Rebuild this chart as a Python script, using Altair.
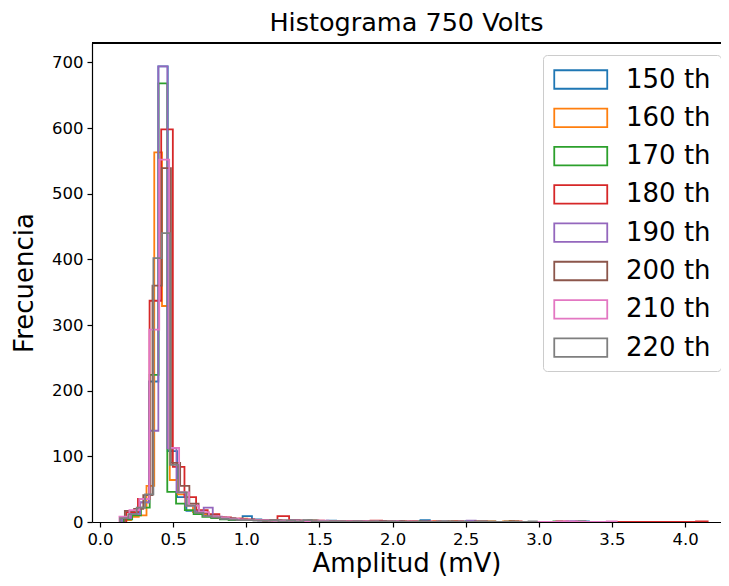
import altair as alt
import pandas as pd

labels = ["150 th", "160 th", "170 th", "180 th", "190 th", "200 th", "210 th", "220 th"]
colors = ["#1f77b4", "#ff7f0e", "#2ca02c", "#d62728", "#9467bd", "#8c564b", "#e377c2", "#7f7f7f"]

# left edge of the first bin and bin width (mV) of each series (50 bins each)
bin_start = [0.143, 0.159, 0.160, 0.180, 0.151, 0.170, 0.133, 0.137]
bin_width = [0.064, 0.053, 0.060, 0.0795, 0.062, 0.063, 0.068, 0.057]

counts_150 = [5, 14, 30, 214, 694, 108, 38, 17, 12, 9, 6, 5, 4, 9, 4, 3, 3, 2, 3, 2,
              2, 1, 2, 1, 1, 1, 1, 0, 1, 1, 0, 1, 3, 0, 1, 0, 1, 0, 0, 1,
              0, 1, 0, 0, 0, 0, 0, 0, 1, 1]
counts_160 = [3, 8, 10, 55, 563, 329, 64, 42, 25, 15, 12, 9, 7, 5, 4, 5, 3, 3, 2, 2,
              2, 1, 2, 1, 1, 1, 1, 1, 0, 1, 1, 0, 1, 0, 1, 1, 0, 1, 0, 0,
              1, 0, 1, 0, 0, 0, 0, 1, 0, 1]
counts_170 = [4, 10, 22, 224, 668, 46, 28, 18, 12, 8, 6, 4, 3, 4, 3, 3, 2, 2, 2, 1,
              1, 2, 1, 1, 1, 0, 1, 1, 0, 1, 0, 1, 0, 1, 0, 0, 1, 0, 0, 1,
              0, 0, 0, 0, 1, 0, 0, 0, 0, 1]
counts_180 = [15, 35, 337, 598, 84, 38, 18, 12, 7, 5, 4, 3, 3, 9, 2, 2, 2, 1, 1, 1,
              1, 2, 1, 1, 1, 0, 1, 0, 1, 0, 1, 0, 0, 1, 0, 0, 0, 1, 0, 0,
              0, 0, 0, 0, 0, 0, 0, 0, 0, 1]
counts_190 = [6, 12, 30, 139, 694, 112, 45, 25, 16, 22, 8, 5, 4, 3, 3, 2, 2, 2, 1, 2,
              1, 1, 1, 1, 0, 1, 1, 0, 1, 0, 1, 0, 0, 1, 0, 0, 0, 0, 2, 0,
              0, 0, 0, 0, 0, 0, 0, 0, 0, 1]
counts_200 = [17, 20, 41, 360, 539, 90, 55, 28, 14, 10, 7, 6, 4, 3, 3, 2, 3, 2, 2, 1,
              2, 1, 1, 1, 1, 1, 0, 1, 1, 0, 1, 0, 1, 0, 0, 1, 0, 0, 1, 0,
              0, 0, 0, 0, 0, 0, 0, 0, 0, 1]
counts_210 = [8, 18, 35, 293, 552, 113, 45, 25, 15, 9, 7, 5, 4, 3, 3, 2, 2, 2, 1, 1,
              2, 1, 1, 1, 1, 1, 0, 1, 0, 1, 0, 0, 1, 0, 0, 0, 0, 0, 0, 0,
              0, 0, 0, 0, 1, 1, 0, 0, 0, 1]
counts_220 = [6, 12, 22, 42, 402, 440, 87, 45, 25, 14, 9, 7, 5, 4, 3, 3, 2, 2, 3, 1,
              2, 1, 3, 1, 1, 1, 1, 0, 1, 0, 1, 0, 1, 0, 0, 0, 0, 0, 1, 1,
              0, 0, 0, 1, 0, 0, 0, 0, 0, 1]

all_counts = [counts_150, counts_160, counts_170, counts_180,
              counts_190, counts_200, counts_210, counts_220]

x_ticks = [0.0, 0.5, 1.0, 1.5, 2.0, 2.5, 3.0, 3.5, 4.0]
y_ticks = [0, 100, 200, 300, 400, 500, 600, 700]

rows = []
for name, x0, w, cs in zip(labels, bin_start, bin_width, all_counts):
    k = 0
    rows.append({"serie": name, "x": x0, "y": 0, "i": k}); k += 1
    for j, c in enumerate(cs):
        rows.append({"serie": name, "x": x0 + j * w, "y": c, "i": k}); k += 1
        rows.append({"serie": name, "x": x0 + (j + 1) * w, "y": c, "i": k}); k += 1
    rows.append({"serie": name, "x": x0 + len(cs) * w, "y": 0, "i": k})
df = pd.DataFrame(rows)

font = "DejaVu Sans"
W, H = 629, 479

hist = alt.Chart(df).mark_line(strokeWidth=1.8, clip=True).encode(
    x=alt.X("x:Q",
            scale=alt.Scale(domain=[-0.0547, 4.246], nice=False, zero=False),
            axis=alt.Axis(values=x_ticks, format=".1f", title="Amplitud (mV)")),
    y=alt.Y("y:Q",
            scale=alt.Scale(domain=[0, 729.6], nice=False),
            axis=alt.Axis(values=y_ticks, title="Frecuencia")),
    color=alt.Color("serie:N",
                    scale=alt.Scale(domain=labels, range=colors),
                    legend=alt.Legend(
                        title=None, orient="none", legendX=451, legendY=12,
                        symbolType="M-1,-0.7L3,-0.7L3,0.7L-1,0.7Z",
                        symbolSize=702, symbolStrokeWidth=1.8,
                        symbolFillColor="white",
                        labelFontSize=26, labelFont=font, labelColor="black",
                        labelOffset=44, rowPadding=10.3,
                        padding=10, strokeColor="#cccccc", fillColor="white",
                        cornerRadius=4)),
    order=alt.Order("i:Q"),
)

top_line = alt.Chart(df).mark_rule(color="black", strokeWidth=1.2).encode(
    x=alt.value(0), x2=alt.value(W), y=alt.value(0)
)

chart = alt.layer(hist, top_line).properties(
    width=W, height=H,
    title=alt.TitleParams("Histograma 750 Volts", fontSize=25.5, font=font,
                          fontWeight="normal", color="black", offset=6),
    autosize=alt.AutoSizeParams(type="none"),
    padding={"left": 84, "top": 35, "right": 0, "bottom": 56},
).configure_view(
    strokeWidth=0
).configure_axis(
    grid=False, domainColor="black", domainWidth=1.2,
    tickColor="black", tickWidth=1.2, tickSize=5,
    labelFont=font, labelFontSize=16.5, labelColor="black", labelPadding=4,
    titleFont=font, titleFontSize=26, titleFontWeight="normal", titleColor="black",
).configure_axisY(titlePadding=14).configure_axisX(titlePadding=3)

chart.save("out.html", embed_options={"renderer": "svg", "actions": False})
